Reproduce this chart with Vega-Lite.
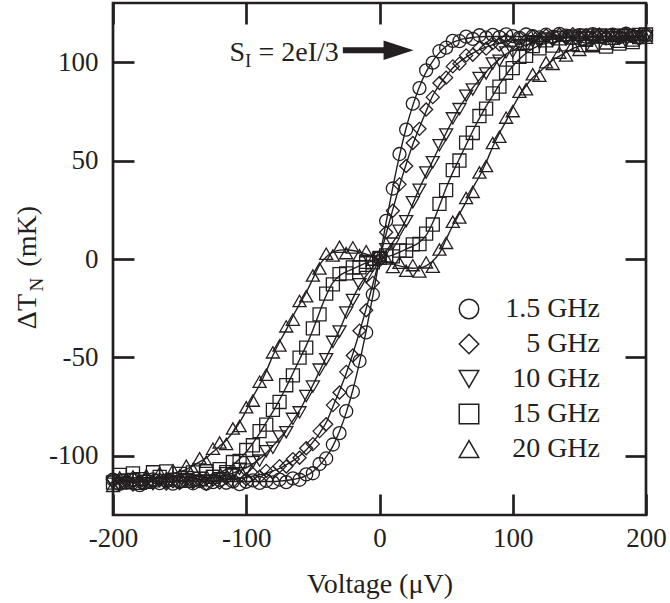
{
  "$schema": "https://vega.github.io/schema/vega-lite/v6.json",
  "width": 533,
  "height": 512,
  "autosize": {"type": "none"},
  "padding": {"left": 113, "top": 3, "right": 24, "bottom": 88},
  "background": "white",
  "config": {
    "view": {"stroke": "#231f20", "strokeWidth": 2.7},
    "font": "Liberation Serif",
    "axis": {
      "domain": false, "grid": false, "tickColor": "#231f20", "tickWidth": 2.7, "tickSize": 21, "offset": -21,
      "labelFont": "Liberation Serif", "labelFontSize": 27, "labelColor": "#231f20",
      "titleFont": "Liberation Serif", "titleFontSize": 28, "titleColor": "#231f20", "titleFontWeight": "normal"
    },
    "axisX": {"labelPadding": 10, "titlePadding": 19},
    "axisY": {"labelPadding": 15},
    "legend": {
      "orient": "none", "legendX": 342, "legendY": 292, "padding": 0, "title": null,
      "labelFont": "Liberation Serif", "labelFontSize": 28, "labelColor": "#231f20",
      "labelAlign": "right", "labelOffset": 117, "symbolSize": 380, "symbolStrokeWidth": 1.5,
      "symbolStrokeColor": "#231f20", "rowPadding": 7
    }
  },
  "datasets": {
    "pts": [
      {"f":"1.5 GHz","v":-200,"fit":-113,"t":-112.0},{"f":"1.5 GHz","v":-195,"fit":-113,"t":-114.2},{"f":"1.5 GHz","v":-190,"fit":-113,"t":-113.5},{"f":"1.5 GHz","v":-185,"fit":-113,"t":-112.3},{"f":"1.5 GHz","v":-180,"fit":-113,"t":-114.8},{"f":"1.5 GHz","v":-175,"fit":-113,"t":-113.0},{"f":"1.5 GHz","v":-170,"fit":-113,"t":-111.9},{"f":"1.5 GHz","v":-165,"fit":-113,"t":-113.8},{"f":"1.5 GHz","v":-160,"fit":-113,"t":-112.6},{"f":"1.5 GHz","v":-155,"fit":-113,"t":-114.1},{"f":"1.5 GHz","v":-150,"fit":-113,"t":-113.2},{"f":"1.5 GHz","v":-145,"fit":-113,"t":-112.1},{"f":"1.5 GHz","v":-140,"fit":-113,"t":-113.9},{"f":"1.5 GHz","v":-135,"fit":-113,"t":-112.8},{"f":"1.5 GHz","v":-130,"fit":-113,"t":-114.0},{"f":"1.5 GHz","v":-125,"fit":-113,"t":-113.3},{"f":"1.5 GHz","v":-120,"fit":-113,"t":-112.2},{"f":"1.5 GHz","v":-115,"fit":-113,"t":-113.6},{"f":"1.5 GHz","v":-110,"fit":-113,"t":-112.9},{"f":"1.5 GHz","v":-105,"fit":-113,"t":-114.3},{"f":"1.5 GHz","v":-100,"fit":-113,"t":-113.1},{"f":"1.5 GHz","v":-95,"fit":-113,"t":-112.4},{"f":"1.5 GHz","v":-90,"fit":-113,"t":-113.7},{"f":"1.5 GHz","v":-85,"fit":-113,"t":-112.6},{"f":"1.5 GHz","v":-80,"fit":-113,"t":-113.4},{"f":"1.5 GHz","v":-75,"fit":-112.8,"t":-112.0},{"f":"1.5 GHz","v":-70,"fit":-112.5,"t":-113.3},{"f":"1.5 GHz","v":-65,"fit":-112,"t":-111.4},{"f":"1.5 GHz","v":-60,"fit":-111.3,"t":-112.1},{"f":"1.5 GHz","v":-55,"fit":-110,"t":-109.4},{"f":"1.5 GHz","v":-50,"fit":-108,"t":-108.8},{"f":"1.5 GHz","v":-45,"fit":-104.8,"t":-104.1},{"f":"1.5 GHz","v":-40,"fit":-100.5,"t":-101.3},{"f":"1.5 GHz","v":-35,"fit":-95,"t":-94.2},{"f":"1.5 GHz","v":-30,"fit":-87.5,"t":-88.4},{"f":"1.5 GHz","v":-25,"fit":-78,"t":-77.3},{"f":"1.5 GHz","v":-20,"fit":-66.5,"t":-67.4},{"f":"1.5 GHz","v":-15,"fit":-52.5,"t":-51.8},{"f":"1.5 GHz","v":-10,"fit":-36.5,"t":-37.3},{"f":"1.5 GHz","v":-5,"fit":-18.7,"t":-18.0},{"f":"1.5 GHz","v":0,"fit":0,"t":0.6},{"f":"1.5 GHz","v":5,"fit":18.7,"t":19.4},{"f":"1.5 GHz","v":10,"fit":36.5,"t":35.8},{"f":"1.5 GHz","v":15,"fit":52.5,"t":53.3},{"f":"1.5 GHz","v":20,"fit":66.5,"t":65.7},{"f":"1.5 GHz","v":25,"fit":78,"t":78.9},{"f":"1.5 GHz","v":30,"fit":87.5,"t":86.8},{"f":"1.5 GHz","v":35,"fit":95,"t":95.8},{"f":"1.5 GHz","v":40,"fit":100.5,"t":99.7},{"f":"1.5 GHz","v":45,"fit":104.8,"t":105.5},{"f":"1.5 GHz","v":50,"fit":108,"t":107.3},{"f":"1.5 GHz","v":55,"fit":110,"t":110.8},{"f":"1.5 GHz","v":60,"fit":111.3,"t":110.6},{"f":"1.5 GHz","v":65,"fit":112,"t":112.9},{"f":"1.5 GHz","v":70,"fit":112.5,"t":111.8},{"f":"1.5 GHz","v":75,"fit":112.8,"t":113.6},{"f":"1.5 GHz","v":80,"fit":113,"t":112.4},{"f":"1.5 GHz","v":85,"fit":113,"t":113.8},{"f":"1.5 GHz","v":90,"fit":113,"t":112.7},{"f":"1.5 GHz","v":95,"fit":113,"t":114.1},{"f":"1.5 GHz","v":100,"fit":113,"t":113.2},{"f":"1.5 GHz","v":105,"fit":113,"t":112.3},{"f":"1.5 GHz","v":110,"fit":113,"t":114.0},{"f":"1.5 GHz","v":115,"fit":113,"t":113.1},{"f":"1.5 GHz","v":120,"fit":113,"t":112.5},{"f":"1.5 GHz","v":125,"fit":113,"t":113.9},{"f":"1.5 GHz","v":130,"fit":113,"t":112.8},{"f":"1.5 GHz","v":135,"fit":113,"t":114.3},{"f":"1.5 GHz","v":140,"fit":113,"t":113.4},{"f":"1.5 GHz","v":145,"fit":113,"t":112.2},{"f":"1.5 GHz","v":150,"fit":113,"t":113.7},{"f":"1.5 GHz","v":155,"fit":113,"t":112.9},{"f":"1.5 GHz","v":160,"fit":113,"t":114.2},{"f":"1.5 GHz","v":165,"fit":113,"t":113.0},{"f":"1.5 GHz","v":170,"fit":113,"t":112.1},{"f":"1.5 GHz","v":175,"fit":113,"t":113.9},{"f":"1.5 GHz","v":180,"fit":113,"t":112.7},{"f":"1.5 GHz","v":185,"fit":113,"t":114.4},{"f":"1.5 GHz","v":190,"fit":113,"t":113.3},{"f":"1.5 GHz","v":195,"fit":113,"t":112.5},{"f":"1.5 GHz","v":200,"fit":113,"t":113.8},
      {"f":"5 GHz","v":-200,"fit":-113,"t":-111.8},{"f":"5 GHz","v":-195,"fit":-113,"t":-113.9},{"f":"5 GHz","v":-190,"fit":-113,"t":-112.5},{"f":"5 GHz","v":-185,"fit":-113,"t":-114.6},{"f":"5 GHz","v":-180,"fit":-113,"t":-113.1},{"f":"5 GHz","v":-175,"fit":-113,"t":-111.7},{"f":"5 GHz","v":-170,"fit":-113,"t":-113.6},{"f":"5 GHz","v":-165,"fit":-113,"t":-112.2},{"f":"5 GHz","v":-160,"fit":-113,"t":-114.0},{"f":"5 GHz","v":-155,"fit":-113,"t":-112.9},{"f":"5 GHz","v":-150,"fit":-113,"t":-113.8},{"f":"5 GHz","v":-145,"fit":-113,"t":-111.9},{"f":"5 GHz","v":-140,"fit":-113,"t":-113.4},{"f":"5 GHz","v":-135,"fit":-113,"t":-112.1},{"f":"5 GHz","v":-130,"fit":-112.8,"t":-114.1},{"f":"5 GHz","v":-125,"fit":-112.6,"t":-112.0},{"f":"5 GHz","v":-120,"fit":-112.4,"t":-113.5},{"f":"5 GHz","v":-115,"fit":-112.1,"t":-111.3},{"f":"5 GHz","v":-110,"fit":-111.8,"t":-112.9},{"f":"5 GHz","v":-105,"fit":-111.4,"t":-110.6},{"f":"5 GHz","v":-100,"fit":-110.9,"t":-111.8},{"f":"5 GHz","v":-95,"fit":-110.3,"t":-109.2},{"f":"5 GHz","v":-90,"fit":-109.6,"t":-110.5},{"f":"5 GHz","v":-85,"fit":-108.7,"t":-107.6},{"f":"5 GHz","v":-80,"fit":-107.6,"t":-108.5},{"f":"5 GHz","v":-75,"fit":-106.3,"t":-105.2},{"f":"5 GHz","v":-70,"fit":-104.5,"t":-105.4},{"f":"5 GHz","v":-65,"fit":-102.5,"t":-101.6},{"f":"5 GHz","v":-60,"fit":-100,"t":-100.9},{"f":"5 GHz","v":-55,"fit":-97,"t":-96.1},{"f":"5 GHz","v":-50,"fit":-93,"t":-94.0},{"f":"5 GHz","v":-45,"fit":-88.5,"t":-87.4},{"f":"5 GHz","v":-40,"fit":-83,"t":-83.9},{"f":"5 GHz","v":-35,"fit":-75,"t":-74.2},{"f":"5 GHz","v":-30,"fit":-66.9,"t":-67.8},{"f":"5 GHz","v":-25,"fit":-58.1,"t":-57.3},{"f":"5 GHz","v":-20,"fit":-48.1,"t":-49.0},{"f":"5 GHz","v":-15,"fit":-37.1,"t":-36.4},{"f":"5 GHz","v":-10,"fit":-25.2,"t":-26.0},{"f":"5 GHz","v":-5,"fit":-12.8,"t":-12.1},{"f":"5 GHz","v":0,"fit":0,"t":-0.7},{"f":"5 GHz","v":5,"fit":12.8,"t":13.6},{"f":"5 GHz","v":10,"fit":25.2,"t":24.5},{"f":"5 GHz","v":15,"fit":37.1,"t":37.9},{"f":"5 GHz","v":20,"fit":48.1,"t":47.2},{"f":"5 GHz","v":25,"fit":58.1,"t":58.9},{"f":"5 GHz","v":30,"fit":66.9,"t":66.1},{"f":"5 GHz","v":35,"fit":75,"t":75.9},{"f":"5 GHz","v":40,"fit":83,"t":82.2},{"f":"5 GHz","v":45,"fit":88.5,"t":89.4},{"f":"5 GHz","v":50,"fit":93,"t":92.1},{"f":"5 GHz","v":55,"fit":97,"t":97.8},{"f":"5 GHz","v":60,"fit":100,"t":99.2},{"f":"5 GHz","v":65,"fit":102.5,"t":103.4},{"f":"5 GHz","v":70,"fit":104.5,"t":103.7},{"f":"5 GHz","v":75,"fit":106.3,"t":107.2},{"f":"5 GHz","v":80,"fit":107.6,"t":106.8},{"f":"5 GHz","v":85,"fit":108.7,"t":109.6},{"f":"5 GHz","v":90,"fit":109.6,"t":108.9},{"f":"5 GHz","v":95,"fit":110.3,"t":111.2},{"f":"5 GHz","v":100,"fit":110.9,"t":110.0},{"f":"5 GHz","v":105,"fit":111.4,"t":112.3},{"f":"5 GHz","v":110,"fit":111.8,"t":111.0},{"f":"5 GHz","v":115,"fit":112.1,"t":113.0},{"f":"5 GHz","v":120,"fit":112.4,"t":111.6},{"f":"5 GHz","v":125,"fit":112.6,"t":113.5},{"f":"5 GHz","v":130,"fit":112.8,"t":112.0},{"f":"5 GHz","v":135,"fit":113,"t":113.9},{"f":"5 GHz","v":140,"fit":113,"t":112.3},{"f":"5 GHz","v":145,"fit":113,"t":114.2},{"f":"5 GHz","v":150,"fit":113,"t":112.8},{"f":"5 GHz","v":155,"fit":113,"t":113.7},{"f":"5 GHz","v":160,"fit":113,"t":112.1},{"f":"5 GHz","v":165,"fit":113,"t":114.0},{"f":"5 GHz","v":170,"fit":113,"t":112.9},{"f":"5 GHz","v":175,"fit":113,"t":113.6},{"f":"5 GHz","v":180,"fit":113,"t":112.2},{"f":"5 GHz","v":185,"fit":113,"t":114.3},{"f":"5 GHz","v":190,"fit":113,"t":113.0},{"f":"5 GHz","v":195,"fit":113,"t":111.9},{"f":"5 GHz","v":200,"fit":113,"t":113.9},
      {"f":"10 GHz","v":-200,"fit":-113,"t":-114.1},{"f":"10 GHz","v":-195,"fit":-113,"t":-112.4},{"f":"10 GHz","v":-190,"fit":-113,"t":-113.6},{"f":"10 GHz","v":-185,"fit":-113,"t":-111.8},{"f":"10 GHz","v":-180,"fit":-113,"t":-113.9},{"f":"10 GHz","v":-175,"fit":-113,"t":-112.7},{"f":"10 GHz","v":-170,"fit":-113,"t":-114.3},{"f":"10 GHz","v":-165,"fit":-113,"t":-112.2},{"f":"10 GHz","v":-160,"fit":-113,"t":-113.5},{"f":"10 GHz","v":-155,"fit":-113,"t":-111.9},{"f":"10 GHz","v":-150,"fit":-112.8,"t":-113.7},{"f":"10 GHz","v":-145,"fit":-112.6,"t":-111.8},{"f":"10 GHz","v":-140,"fit":-112.3,"t":-113.2},{"f":"10 GHz","v":-135,"fit":-112,"t":-111.1},{"f":"10 GHz","v":-130,"fit":-111.6,"t":-112.5},{"f":"10 GHz","v":-125,"fit":-111.1,"t":-110.2},{"f":"10 GHz","v":-120,"fit":-110.5,"t":-111.4},{"f":"10 GHz","v":-115,"fit":-109.7,"t":-108.8},{"f":"10 GHz","v":-110,"fit":-108.7,"t":-109.6},{"f":"10 GHz","v":-105,"fit":-107.5,"t":-106.6},{"f":"10 GHz","v":-100,"fit":-106,"t":-106.9},{"f":"10 GHz","v":-95,"fit":-104,"t":-103.1},{"f":"10 GHz","v":-90,"fit":-101.5,"t":-102.4},{"f":"10 GHz","v":-85,"fit":-98.5,"t":-97.6},{"f":"10 GHz","v":-80,"fit":-95,"t":-95.9},{"f":"10 GHz","v":-75,"fit":-91,"t":-90.1},{"f":"10 GHz","v":-70,"fit":-87,"t":-88.0},{"f":"10 GHz","v":-65,"fit":-82,"t":-81.2},{"f":"10 GHz","v":-60,"fit":-77,"t":-77.9},{"f":"10 GHz","v":-55,"fit":-70.5,"t":-69.6},{"f":"10 GHz","v":-50,"fit":-64,"t":-64.8},{"f":"10 GHz","v":-45,"fit":-57,"t":-56.2},{"f":"10 GHz","v":-40,"fit":-50,"t":-50.9},{"f":"10 GHz","v":-35,"fit":-43,"t":-42.1},{"f":"10 GHz","v":-30,"fit":-36,"t":-36.8},{"f":"10 GHz","v":-25,"fit":-28,"t":-27.2},{"f":"10 GHz","v":-20,"fit":-20,"t":-20.8},{"f":"10 GHz","v":-15,"fit":-13.5,"t":-12.8},{"f":"10 GHz","v":-10,"fit":-8.5,"t":-9.2},{"f":"10 GHz","v":-5,"fit":-4.2,"t":-3.6},{"f":"10 GHz","v":0,"fit":0,"t":0.5},{"f":"10 GHz","v":5,"fit":4.2,"t":4.9},{"f":"10 GHz","v":10,"fit":8.5,"t":7.8},{"f":"10 GHz","v":15,"fit":13.5,"t":14.3},{"f":"10 GHz","v":20,"fit":20,"t":19.2},{"f":"10 GHz","v":25,"fit":28,"t":28.8},{"f":"10 GHz","v":30,"fit":36,"t":35.2},{"f":"10 GHz","v":35,"fit":43,"t":43.9},{"f":"10 GHz","v":40,"fit":50,"t":49.1},{"f":"10 GHz","v":45,"fit":57,"t":57.8},{"f":"10 GHz","v":50,"fit":64,"t":63.2},{"f":"10 GHz","v":55,"fit":70.5,"t":71.4},{"f":"10 GHz","v":60,"fit":77,"t":76.1},{"f":"10 GHz","v":65,"fit":82,"t":82.9},{"f":"10 GHz","v":70,"fit":87,"t":86.1},{"f":"10 GHz","v":75,"fit":91,"t":91.9},{"f":"10 GHz","v":80,"fit":95,"t":94.2},{"f":"10 GHz","v":85,"fit":98.5,"t":99.3},{"f":"10 GHz","v":90,"fit":101.5,"t":100.7},{"f":"10 GHz","v":95,"fit":104,"t":104.9},{"f":"10 GHz","v":100,"fit":106,"t":105.2},{"f":"10 GHz","v":105,"fit":107.5,"t":108.4},{"f":"10 GHz","v":110,"fit":108.7,"t":107.9},{"f":"10 GHz","v":115,"fit":109.7,"t":110.6},{"f":"10 GHz","v":120,"fit":110.5,"t":109.7},{"f":"10 GHz","v":125,"fit":111.1,"t":112.0},{"f":"10 GHz","v":130,"fit":111.6,"t":110.8},{"f":"10 GHz","v":135,"fit":112,"t":112.9},{"f":"10 GHz","v":140,"fit":112.3,"t":111.5},{"f":"10 GHz","v":145,"fit":112.6,"t":113.5},{"f":"10 GHz","v":150,"fit":112.8,"t":112.0},{"f":"10 GHz","v":155,"fit":113,"t":113.9},{"f":"10 GHz","v":160,"fit":113,"t":112.4},{"f":"10 GHz","v":165,"fit":113,"t":114.0},{"f":"10 GHz","v":170,"fit":113,"t":112.6},{"f":"10 GHz","v":175,"fit":113,"t":113.8},{"f":"10 GHz","v":180,"fit":113,"t":112.1},{"f":"10 GHz","v":185,"fit":113,"t":113.7},{"f":"10 GHz","v":190,"fit":113,"t":112.5},{"f":"10 GHz","v":195,"fit":113,"t":114.2},{"f":"10 GHz","v":200,"fit":113,"t":113.0},
      {"f":"15 GHz","v":-200,"fit":-111,"t":-113.5},{"f":"15 GHz","v":-195,"fit":-111,"t":-109.6},{"f":"15 GHz","v":-190,"fit":-111,"t":-112.4},{"f":"15 GHz","v":-185,"fit":-111,"t":-108.9},{"f":"15 GHz","v":-180,"fit":-111,"t":-111.8},{"f":"15 GHz","v":-175,"fit":-111,"t":-113.2},{"f":"15 GHz","v":-170,"fit":-111,"t":-108.3},{"f":"15 GHz","v":-165,"fit":-111,"t":-110.6},{"f":"15 GHz","v":-160,"fit":-111,"t":-107.9},{"f":"15 GHz","v":-155,"fit":-111,"t":-112.0},{"f":"15 GHz","v":-150,"fit":-111,"t":-109.1},{"f":"15 GHz","v":-145,"fit":-110.9,"t":-112.6},{"f":"15 GHz","v":-140,"fit":-110.8,"t":-108.4},{"f":"15 GHz","v":-135,"fit":-110.5,"t":-111.7},{"f":"15 GHz","v":-130,"fit":-110,"t":-107.8},{"f":"15 GHz","v":-125,"fit":-109.5,"t":-110.6},{"f":"15 GHz","v":-120,"fit":-108.5,"t":-106.7},{"f":"15 GHz","v":-115,"fit":-106.8,"t":-108.2},{"f":"15 GHz","v":-110,"fit":-104.5,"t":-103.1},{"f":"15 GHz","v":-105,"fit":-101.5,"t":-102.6},{"f":"15 GHz","v":-100,"fit":-98,"t":-97.0},{"f":"15 GHz","v":-95,"fit":-93.5,"t":-94.6},{"f":"15 GHz","v":-90,"fit":-88.5,"t":-87.4},{"f":"15 GHz","v":-85,"fit":-83,"t":-84.1},{"f":"15 GHz","v":-80,"fit":-77.5,"t":-76.6},{"f":"15 GHz","v":-75,"fit":-71.5,"t":-72.6},{"f":"15 GHz","v":-70,"fit":-65,"t":-64.1},{"f":"15 GHz","v":-65,"fit":-58,"t":-59.1},{"f":"15 GHz","v":-60,"fit":-51,"t":-50.1},{"f":"15 GHz","v":-55,"fit":-44,"t":-45.0},{"f":"15 GHz","v":-50,"fit":-36,"t":-35.2},{"f":"15 GHz","v":-45,"fit":-27,"t":-28.1},{"f":"15 GHz","v":-40,"fit":-18.5,"t":-17.6},{"f":"15 GHz","v":-35,"fit":-12,"t":-12.9},{"f":"15 GHz","v":-30,"fit":-8.5,"t":-7.7},{"f":"15 GHz","v":-25,"fit":-6.5,"t":-7.3},{"f":"15 GHz","v":-20,"fit":-5,"t":-4.3},{"f":"15 GHz","v":-15,"fit":-3.5,"t":-4.2},{"f":"15 GHz","v":-10,"fit":-2,"t":-1.4},{"f":"15 GHz","v":-5,"fit":-1,"t":-1.7},{"f":"15 GHz","v":0,"fit":0,"t":0.6},{"f":"15 GHz","v":5,"fit":1,"t":1.8},{"f":"15 GHz","v":10,"fit":2,"t":1.3},{"f":"15 GHz","v":15,"fit":3.5,"t":4.3},{"f":"15 GHz","v":20,"fit":5,"t":4.2},{"f":"15 GHz","v":25,"fit":6.5,"t":7.4},{"f":"15 GHz","v":30,"fit":8.5,"t":7.6},{"f":"15 GHz","v":35,"fit":12,"t":12.9},{"f":"15 GHz","v":40,"fit":18.5,"t":17.5},{"f":"15 GHz","v":45,"fit":27,"t":28.0},{"f":"15 GHz","v":50,"fit":36,"t":35.0},{"f":"15 GHz","v":55,"fit":44,"t":45.1},{"f":"15 GHz","v":60,"fit":51,"t":50.0},{"f":"15 GHz","v":65,"fit":58,"t":59.1},{"f":"15 GHz","v":70,"fit":65,"t":64.0},{"f":"15 GHz","v":75,"fit":71.5,"t":72.6},{"f":"15 GHz","v":80,"fit":77.5,"t":76.4},{"f":"15 GHz","v":85,"fit":83,"t":84.1},{"f":"15 GHz","v":90,"fit":88.5,"t":87.5},{"f":"15 GHz","v":95,"fit":93.5,"t":94.6},{"f":"15 GHz","v":100,"fit":98,"t":96.9},{"f":"15 GHz","v":105,"fit":101.5,"t":102.7},{"f":"15 GHz","v":110,"fit":104.5,"t":103.2},{"f":"15 GHz","v":115,"fit":106.8,"t":108.1},{"f":"15 GHz","v":120,"fit":108.5,"t":107.0},{"f":"15 GHz","v":125,"fit":109.5,"t":111.0},{"f":"15 GHz","v":130,"fit":110,"t":108.4},{"f":"15 GHz","v":135,"fit":110.5,"t":112.0},{"f":"15 GHz","v":140,"fit":110.8,"t":109.0},{"f":"15 GHz","v":145,"fit":110.9,"t":112.5},{"f":"15 GHz","v":150,"fit":111,"t":108.6},{"f":"15 GHz","v":155,"fit":111,"t":111.9},{"f":"15 GHz","v":160,"fit":111,"t":109.2},{"f":"15 GHz","v":165,"fit":111,"t":113.0},{"f":"15 GHz","v":170,"fit":111,"t":107.9},{"f":"15 GHz","v":175,"fit":111,"t":112.3},{"f":"15 GHz","v":180,"fit":111,"t":109.4},{"f":"15 GHz","v":185,"fit":111,"t":113.4},{"f":"15 GHz","v":190,"fit":111,"t":110.1},{"f":"15 GHz","v":195,"fit":111,"t":112.7},{"f":"15 GHz","v":200,"fit":111,"t":114.0},
      {"f":"20 GHz","v":-200,"fit":-112.8,"t":-115.2},{"f":"20 GHz","v":-195,"fit":-112.7,"t":-110.9},{"f":"20 GHz","v":-190,"fit":-112.5,"t":-113.8},{"f":"20 GHz","v":-185,"fit":-112.3,"t":-110.4},{"f":"20 GHz","v":-180,"fit":-112,"t":-114.1},{"f":"20 GHz","v":-175,"fit":-111.6,"t":-109.8},{"f":"20 GHz","v":-170,"fit":-111.2,"t":-112.9},{"f":"20 GHz","v":-165,"fit":-110.7,"t":-108.6},{"f":"20 GHz","v":-160,"fit":-110,"t":-111.8},{"f":"20 GHz","v":-155,"fit":-109,"t":-107.2},{"f":"20 GHz","v":-150,"fit":-108,"t":-109.9},{"f":"20 GHz","v":-145,"fit":-106.8,"t":-105.0},{"f":"20 GHz","v":-140,"fit":-105,"t":-106.8},{"f":"20 GHz","v":-135,"fit":-103,"t":-101.2},{"f":"20 GHz","v":-130,"fit":-101,"t":-102.9},{"f":"20 GHz","v":-125,"fit":-98,"t":-96.3},{"f":"20 GHz","v":-120,"fit":-95,"t":-93.2},{"f":"20 GHz","v":-115,"fit":-92,"t":-93.9},{"f":"20 GHz","v":-110,"fit":-88,"t":-86.1},{"f":"20 GHz","v":-105,"fit":-83,"t":-84.8},{"f":"20 GHz","v":-100,"fit":-77,"t":-75.3},{"f":"20 GHz","v":-95,"fit":-70,"t":-71.9},{"f":"20 GHz","v":-90,"fit":-64,"t":-62.3},{"f":"20 GHz","v":-85,"fit":-57,"t":-58.8},{"f":"20 GHz","v":-80,"fit":-49,"t":-47.4},{"f":"20 GHz","v":-75,"fit":-42,"t":-43.9},{"f":"20 GHz","v":-70,"fit":-36,"t":-34.2},{"f":"20 GHz","v":-65,"fit":-29,"t":-30.8},{"f":"20 GHz","v":-60,"fit":-23,"t":-21.3},{"f":"20 GHz","v":-55,"fit":-17,"t":-18.9},{"f":"20 GHz","v":-50,"fit":-10,"t":-8.4},{"f":"20 GHz","v":-45,"fit":-3,"t":-4.8},{"f":"20 GHz","v":-40,"fit":1,"t":2.7},{"f":"20 GHz","v":-35,"fit":3.5,"t":1.8},{"f":"20 GHz","v":-30,"fit":4.5,"t":6.2},{"f":"20 GHz","v":-25,"fit":4.7,"t":3.0},{"f":"20 GHz","v":-20,"fit":4.3,"t":5.9},{"f":"20 GHz","v":-15,"fit":3.5,"t":1.9},{"f":"20 GHz","v":-10,"fit":2.5,"t":4.0},{"f":"20 GHz","v":-5,"fit":1.2,"t":-0.3},{"f":"20 GHz","v":0,"fit":0,"t":1.4},{"f":"20 GHz","v":5,"fit":-1.2,"t":0.3},{"f":"20 GHz","v":10,"fit":-2.5,"t":-4.1},{"f":"20 GHz","v":15,"fit":-3.5,"t":-1.9},{"f":"20 GHz","v":20,"fit":-4.3,"t":-6.0},{"f":"20 GHz","v":25,"fit":-4.7,"t":-3.1},{"f":"20 GHz","v":30,"fit":-4.5,"t":-6.3},{"f":"20 GHz","v":35,"fit":-3.5,"t":-1.7},{"f":"20 GHz","v":40,"fit":-1,"t":-3.9},{"f":"20 GHz","v":45,"fit":3,"t":4.8},{"f":"20 GHz","v":50,"fit":10,"t":8.2},{"f":"20 GHz","v":55,"fit":17,"t":18.9},{"f":"20 GHz","v":60,"fit":23,"t":21.1},{"f":"20 GHz","v":65,"fit":29,"t":31.0},{"f":"20 GHz","v":70,"fit":36,"t":34.1},{"f":"20 GHz","v":75,"fit":42,"t":43.9},{"f":"20 GHz","v":80,"fit":49,"t":47.2},{"f":"20 GHz","v":85,"fit":57,"t":58.9},{"f":"20 GHz","v":90,"fit":64,"t":62.1},{"f":"20 GHz","v":95,"fit":70,"t":71.8},{"f":"20 GHz","v":100,"fit":77,"t":75.1},{"f":"20 GHz","v":105,"fit":83,"t":84.9},{"f":"20 GHz","v":110,"fit":88,"t":86.2},{"f":"20 GHz","v":115,"fit":92,"t":93.8},{"f":"20 GHz","v":120,"fit":95,"t":93.1},{"f":"20 GHz","v":125,"fit":98,"t":99.9},{"f":"20 GHz","v":130,"fit":101,"t":99.1},{"f":"20 GHz","v":135,"fit":103,"t":104.8},{"f":"20 GHz","v":140,"fit":105,"t":103.3},{"f":"20 GHz","v":145,"fit":106.8,"t":108.7},{"f":"20 GHz","v":150,"fit":108,"t":106.2},{"f":"20 GHz","v":155,"fit":109,"t":110.9},{"f":"20 GHz","v":160,"fit":110,"t":108.1},{"f":"20 GHz","v":165,"fit":110.7,"t":112.6},{"f":"20 GHz","v":170,"fit":111.2,"t":109.5},{"f":"20 GHz","v":175,"fit":111.6,"t":113.4},{"f":"20 GHz","v":180,"fit":112,"t":110.3},{"f":"20 GHz","v":185,"fit":112.3,"t":114.1},{"f":"20 GHz","v":190,"fit":112.5,"t":111.0},{"f":"20 GHz","v":195,"fit":112.7,"t":114.3},{"f":"20 GHz","v":200,"fit":112.8,"t":112.4}
    ]
  },
  "resolve": {"scale": {"x": "shared", "y": "shared"}, "axis": {"x": "independent", "y": "independent"}},
  "layer": [
    {
      "data": {"name": "pts"},
      "mark": {"type": "line", "color": "#231f20", "strokeWidth": 1.4, "interpolate": "monotone"},
      "encoding": {
        "x": {"field": "v", "type": "quantitative", "scale": {"domain": [-200, 200], "nice": false},
              "axis": {"orient": "bottom", "values": [-200, -100, 0, 100, 200], "title": "Voltage (μV)", "labelExpr": "'' + datum.value", "labelFlush": false}},
        "y": {"field": "fit", "type": "quantitative", "scale": {"domain": [-130, 130], "nice": false},
              "axis": {"orient": "left", "values": [-100, -50, 0, 50, 100], "title": null, "labelExpr": "'' + datum.value"}},
        "detail": {"field": "f"}
      }
    },
    {
      "data": {"name": "pts"},
      "mark": {"type": "point", "filled": false, "color": "#231f20", "strokeWidth": 1.3, "size": 170, "opacity": 1},
      "encoding": {
        "x": {"field": "v", "type": "quantitative", "scale": {"domain": [-200, 200], "nice": false}, "axis": null},
        "y": {"field": "t", "type": "quantitative", "scale": {"domain": [-130, 130], "nice": false}, "axis": null},
        "shape": {"field": "f", "type": "nominal",
                  "scale": {"domain": ["1.5 GHz", "5 GHz", "10 GHz", "15 GHz", "20 GHz"], "range": ["circle", "diamond", "triangle-down", "square", "triangle-up"]},
                  "legend": {"title": null}}
      }
    },
    {
      "data": {"values": [{"v1": -27.5, "v2": 7.5, "t": 106}]},
      "mark": {"type": "rule", "color": "#231f20", "strokeWidth": 6},
      "encoding": {
        "x": {"field": "v1", "type": "quantitative", "scale": {"domain": [-200, 200], "nice": false},
              "axis": {"orient": "top", "values": [-200, -100, 0, 100, 200], "labels": false, "title": null}},
        "x2": {"field": "v2"},
        "y": {"field": "t", "type": "quantitative", "scale": {"domain": [-130, 130], "nice": false},
              "axis": {"orient": "right", "values": [-100, -50, 0, 50, 100], "labels": false, "title": null}}
      }
    },
    {
      "data": {"values": [{"v": 14.3, "t": 106}]},
      "mark": {"type": "point", "shape": "M-1,-0.65L1,0L-1,0.65Z", "size": 900, "filled": true, "color": "#231f20", "opacity": 1},
      "encoding": {
        "x": {"field": "v", "type": "quantitative", "scale": {"domain": [-200, 200], "nice": false}, "axis": null},
        "y": {"field": "t", "type": "quantitative", "scale": {"domain": [-130, 130], "nice": false}, "axis": null}
      }
    },
    {
      "data": {"values": [{"label": "S", "v": -112.6, "t": 100.5}, {"label": "= 2eI/3", "v": -90.8, "t": 100.5}]},
      "mark": {"type": "text", "font": "Liberation Serif", "fontSize": 28, "align": "left", "baseline": "alphabetic", "color": "#231f20"},
      "encoding": {
        "x": {"field": "v", "type": "quantitative", "scale": {"domain": [-200, 200], "nice": false}, "axis": null},
        "y": {"field": "t", "type": "quantitative", "scale": {"domain": [-130, 130], "nice": false}, "axis": null},
        "text": {"field": "label"}
      }
    },
    {
      "data": {"values": [{"label": "I", "v": -100.9, "t": 97.5}]},
      "mark": {"type": "text", "font": "Liberation Serif", "fontSize": 19, "align": "left", "baseline": "alphabetic", "color": "#231f20"},
      "encoding": {
        "x": {"field": "v", "type": "quantitative", "scale": {"domain": [-200, 200], "nice": false}, "axis": null},
        "y": {"field": "t", "type": "quantitative", "scale": {"domain": [-130, 130], "nice": false}, "axis": null},
        "text": {"field": "label"}
      }
    },
    {
      "data": {"values": [{"label": "ΔT", "v": -263.8, "t": -26.7}, {"label": "(mK)", "v": -263.8, "t": 11.5}]},
      "mark": {"type": "text", "font": "Liberation Serif", "fontSize": 28, "align": "center", "baseline": "middle", "angle": 270, "color": "#231f20"},
      "encoding": {
        "x": {"field": "v", "type": "quantitative", "scale": {"domain": [-200, 200], "nice": false}, "axis": null},
        "y": {"field": "t", "type": "quantitative", "scale": {"domain": [-130, 130], "nice": false}, "axis": null},
        "text": {"field": "label"}
      }
    },
    {
      "data": {"values": [{"label": "N", "v": -257.0, "t": -13.0}]},
      "mark": {"type": "text", "font": "Liberation Serif", "fontSize": 19, "align": "center", "baseline": "middle", "angle": 270, "color": "#231f20"},
      "encoding": {
        "x": {"field": "v", "type": "quantitative", "scale": {"domain": [-200, 200], "nice": false}, "axis": null},
        "y": {"field": "t", "type": "quantitative", "scale": {"domain": [-130, 130], "nice": false}, "axis": null},
        "text": {"field": "label"}
      }
    }
  ]
}
